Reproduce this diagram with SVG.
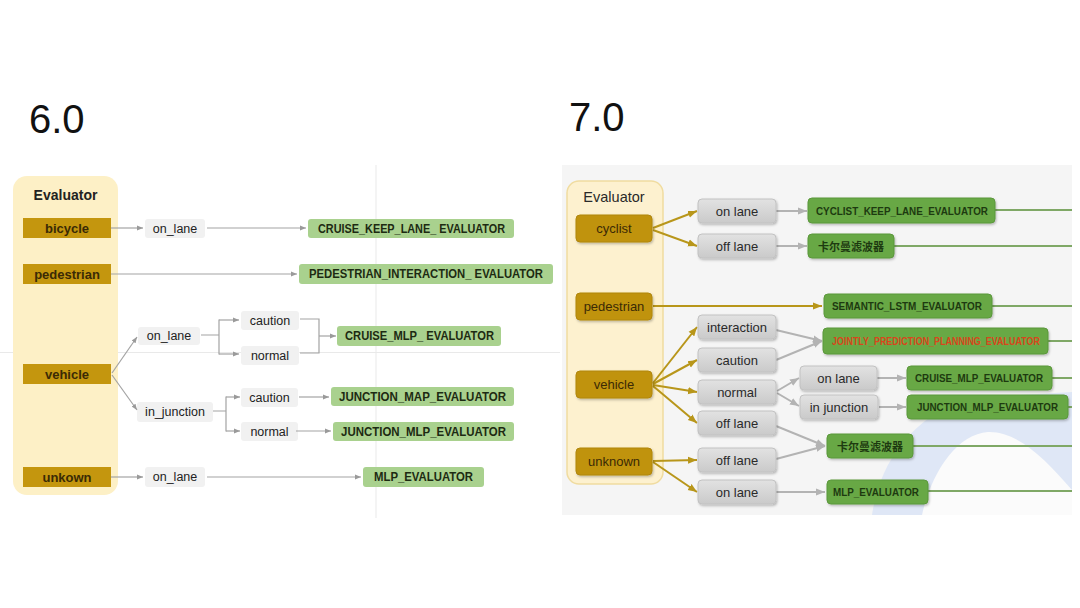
<svg xmlns="http://www.w3.org/2000/svg" width="1080" height="608" viewBox="0 0 1080 608">
<defs>
<style>
.title{font-family:"Liberation Sans",Arial,sans-serif;font-size:40px;fill:#111;}
.lpanel{fill:#fdf0c6;}
.lgold{fill:#c4960e;}
.lgoldt{font-family:"Liberation Sans",Arial,sans-serif;font-weight:bold;font-size:13px;fill:#3a2a05;text-anchor:middle;dominant-baseline:central;}
.lgray{fill:#f1f1f1;}
.lgrayt{font-family:"Liberation Sans",Arial,sans-serif;font-size:12.5px;fill:#222;text-anchor:middle;dominant-baseline:central;}
.lgreen{fill:#a9d18e;}
.lgreent{font-family:"Liberation Sans",Arial,sans-serif;font-weight:bold;font-size:12px;fill:#1d2a12;text-anchor:middle;dominant-baseline:central;}
.lline{fill:none;stroke:#a3a3a3;stroke-width:1.2;}
.grid{stroke:#e9e9e9;stroke-width:1;}
.rpanel{fill:#fdf1cf;stroke:#f0dca0;stroke-width:1.5;}
.rgold{fill:#c0930f;stroke:#b0860c;stroke-width:1;}
.rgoldt{font-family:"Liberation Sans",Arial,sans-serif;font-size:13px;fill:#3b2a05;text-anchor:middle;dominant-baseline:central;}
.rgray{fill:url(#gg);stroke:#c2c2c2;stroke-width:1;}
.rgrayt{font-family:"Liberation Sans",Arial,sans-serif;font-size:13px;fill:#2a2a2a;text-anchor:middle;dominant-baseline:central;}
.rgreen{fill:#67a845;stroke:#5b983b;stroke-width:1;}
.rgreent{font-family:"Liberation Sans",Arial,sans-serif;font-weight:bold;font-size:10.5px;fill:#1d3a10;text-anchor:middle;dominant-baseline:central;}
.rcjk{font-family:"Noto Sans CJK SC",sans-serif;font-size:11px;font-weight:bold;fill:#1d3a10;text-anchor:middle;dominant-baseline:central;}
.yline{fill:none;stroke:#b8961a;stroke-width:2;}
.gline{fill:none;stroke:#b3b3b3;stroke-width:2;}
.oline{fill:none;stroke:#7fa866;stroke-width:2;}
</style>
<linearGradient id="gg" x1="0" y1="0" x2="0" y2="1">
<stop offset="0" stop-color="#e2e2e2"/>
<stop offset="1" stop-color="#cacaca"/>
</linearGradient>
<filter id="sh" x="-10%" y="-20%" width="120%" height="150%">
<feDropShadow dx="1" dy="1.5" stdDeviation="1" flood-color="#000" flood-opacity="0.25"/>
</filter>
<marker id="al" viewBox="0 0 10 10" refX="10" refY="5" markerWidth="6" markerHeight="6" markerUnits="userSpaceOnUse" orient="auto">
<path d="M0,1 L10,5 L0,9 z" fill="#9a9a9a"/>
</marker>
<marker id="ay" viewBox="0 0 10 10" refX="10" refY="5" markerWidth="9" markerHeight="9" markerUnits="userSpaceOnUse" orient="auto">
<path d="M0,1 L10,5 L0,9 z" fill="#b8961a"/>
</marker>
<marker id="ar" viewBox="0 0 10 10" refX="10" refY="5" markerWidth="9" markerHeight="9" markerUnits="userSpaceOnUse" orient="auto">
<path d="M0,1 L10,5 L0,9 z" fill="#b3b3b3"/>
</marker>
</defs>
<rect width="1080" height="608" fill="#ffffff"/>

<!-- titles -->
<text class="title" x="29" y="133">6.0</text>
<text class="title" x="569" y="131">7.0</text>

<!-- left faint grid -->
<line class="grid" x1="376" y1="165" x2="376" y2="518"/>
<line class="grid" x1="0" y1="352.5" x2="560" y2="352.5"/>

<!-- right background -->
<rect x="562" y="165" width="510" height="350" fill="#f5f5f5"/>
<path d="M872 515 C880 460 912 420 965 398 L1072 392 L1072 515 Z" fill="#dfe7f6"/>
<path d="M922 515 C932 470 958 434 988 432 C1018 431 1046 460 1072 490 L1072 515 Z" fill="#fbfbfb"/>

<!-- ===== LEFT (6.0) ===== -->
<g id="l-evaluator">
<rect class="lpanel" x="13" y="176" width="105" height="319" rx="14"/>
<text x="65.5" y="195" style="font-family:'Liberation Sans',Arial,sans-serif;font-weight:bold;font-size:14px;fill:#222;text-anchor:middle;dominant-baseline:central;">Evaluator</text>
</g>
<g id="l-bicycle"><rect class="lgold" x="23" y="218" width="88" height="20"/><text class="lgoldt" x="67" y="228">bicycle</text></g>
<g id="l-pedestrian"><rect class="lgold" x="23" y="264" width="88" height="20"/><text class="lgoldt" x="67" y="274">pedestrian</text></g>
<g id="l-vehicle"><rect class="lgold" x="23" y="364" width="88" height="20"/><text class="lgoldt" x="67" y="374">vehicle</text></g>
<g id="l-unkown"><rect class="lgold" x="23" y="467" width="88" height="20"/><text class="lgoldt" x="67" y="477">unkown</text></g>

<g id="l-onlane1"><rect class="lgray" x="145" y="219" width="60" height="19" rx="3"/><text class="lgrayt" x="175" y="228.5">on_lane</text></g>
<g id="l-onlane2"><rect class="lgray" x="138" y="327" width="62" height="18" rx="3"/><text class="lgrayt" x="169" y="336">on_lane</text></g>
<g id="l-caution1"><rect class="lgray" x="241" y="311" width="58" height="19" rx="3"/><text class="lgrayt" x="270" y="320.5">caution</text></g>
<g id="l-normal1"><rect class="lgray" x="241" y="346" width="58" height="19" rx="3"/><text class="lgrayt" x="270" y="355.5">normal</text></g>
<g id="l-injunction"><rect class="lgray" x="137" y="402" width="76" height="20" rx="3"/><text class="lgrayt" x="175" y="412">in_junction</text></g>
<g id="l-caution2"><rect class="lgray" x="241" y="388" width="57" height="19" rx="3"/><text class="lgrayt" x="269.5" y="397.5">caution</text></g>
<g id="l-normal2"><rect class="lgray" x="241" y="422" width="57" height="19" rx="3"/><text class="lgrayt" x="269.5" y="431.5">normal</text></g>
<g id="l-onlane3"><rect class="lgray" x="145" y="467" width="60" height="20" rx="3"/><text class="lgrayt" x="175" y="477">on_lane</text></g>

<g id="l-cruisekeep"><rect class="lgreen" x="308" y="219" width="206" height="19" rx="3"/><text class="lgreent" x="411.5" y="228.5" textLength="187" lengthAdjust="spacingAndGlyphs">CRUISE_KEEP_LANE_ EVALUATOR</text></g>
<g id="l-pedinter"><rect class="lgreen" x="299" y="264" width="254" height="20" rx="3"/><text class="lgreent" x="426" y="274" textLength="234" lengthAdjust="spacingAndGlyphs">PEDESTRIAN_INTERACTION_ EVALUATOR</text></g>
<g id="l-cruisemlp"><rect class="lgreen" x="337" y="326" width="164" height="20" rx="3"/><text class="lgreent" x="419.5" y="336" textLength="149" lengthAdjust="spacingAndGlyphs">CRUISE_MLP_ EVALUATOR</text></g>
<g id="l-junctionmap"><rect class="lgreen" x="331" y="387" width="183" height="19" rx="3"/><text class="lgreent" x="422.5" y="396.5" textLength="167" lengthAdjust="spacingAndGlyphs">JUNCTION_MAP_EVALUATOR</text></g>
<g id="l-junctionmlp"><rect class="lgreen" x="333" y="422" width="181" height="19" rx="3"/><text class="lgreent" x="423.5" y="431.5" textLength="165" lengthAdjust="spacingAndGlyphs">JUNCTION_MLP_EVALUATOR</text></g>
<g id="l-mlp"><rect class="lgreen" x="363" y="467" width="121" height="20" rx="3"/><text class="lgreent" x="423.5" y="477" textLength="99" lengthAdjust="spacingAndGlyphs">MLP_EVALUATOR</text></g>

<g id="l-connectors">
<line class="lline" x1="111" y1="228" x2="143" y2="228" marker-end="url(#al)"/>
<line class="lline" x1="207" y1="228" x2="306" y2="228" marker-end="url(#al)"/>
<line class="lline" x1="111" y1="274" x2="297" y2="274" marker-end="url(#al)"/>
<line class="lline" x1="112" y1="373" x2="137" y2="337" marker-end="url(#al)"/>
<line class="lline" x1="112" y1="375" x2="137" y2="410" marker-end="url(#al)"/>
<path class="lline" d="M201 335 H219 M219 319.5 V354.5"/>
<line class="lline" x1="219" y1="320" x2="239" y2="320" marker-end="url(#al)"/>
<line class="lline" x1="219" y1="354" x2="239" y2="354" marker-end="url(#al)"/>
<path class="lline" d="M300 319 H319 V353 H300"/>
<line class="lline" x1="319" y1="336" x2="336" y2="336" marker-end="url(#al)"/>
<path class="lline" d="M213 411 H226 M226 396.5 V431.5"/>
<line class="lline" x1="226" y1="397" x2="240" y2="397" marker-end="url(#al)"/>
<line class="lline" x1="226" y1="431" x2="240" y2="431" marker-end="url(#al)"/>
<line class="lline" x1="299" y1="397" x2="329" y2="397" marker-end="url(#al)"/>
<line class="lline" x1="296" y1="431" x2="331" y2="431" marker-end="url(#al)"/>
<line class="lline" x1="111" y1="477" x2="143" y2="477" marker-end="url(#al)"/>
<line class="lline" x1="207" y1="477" x2="361" y2="477" marker-end="url(#al)"/>
</g>

<!-- ===== RIGHT (7.0) ===== -->
<g id="r-evaluator">
<rect class="rpanel" x="567" y="181" width="96" height="303" rx="12"/>
<text x="614" y="197" style="font-family:'Liberation Sans',Arial,sans-serif;font-size:14.5px;fill:#2a2a2a;text-anchor:middle;dominant-baseline:central;">Evaluator</text>
</g>

<g id="r-connectors">
<line class="yline" x1="653" y1="228" x2="697" y2="211" marker-end="url(#ay)"/>
<line class="yline" x1="653" y1="230" x2="697" y2="246" marker-end="url(#ay)"/>
<line class="yline" x1="653" y1="306" x2="822" y2="306" marker-end="url(#ay)"/>
<line class="yline" x1="653" y1="383" x2="697" y2="327" marker-end="url(#ay)"/>
<line class="yline" x1="653" y1="384" x2="697" y2="360" marker-end="url(#ay)"/>
<line class="yline" x1="653" y1="385" x2="697" y2="392" marker-end="url(#ay)"/>
<line class="yline" x1="653" y1="386" x2="697" y2="423" marker-end="url(#ay)"/>
<line class="yline" x1="653" y1="461" x2="697" y2="460" marker-end="url(#ay)"/>
<line class="yline" x1="653" y1="462" x2="697" y2="492" marker-end="url(#ay)"/>
<line class="gline" x1="776" y1="211" x2="807" y2="211" marker-end="url(#ar)"/>
<line class="gline" x1="776" y1="246" x2="807" y2="246" marker-end="url(#ar)"/>
<line class="gline" x1="776" y1="330" x2="822" y2="341" marker-end="url(#ar)"/>
<line class="gline" x1="776" y1="360" x2="822" y2="341" marker-end="url(#ar)"/>
<line class="gline" x1="777" y1="391" x2="799" y2="378" marker-end="url(#ar)"/>
<line class="gline" x1="777" y1="393" x2="799" y2="406" marker-end="url(#ar)"/>
<line class="gline" x1="877" y1="378" x2="906" y2="378" marker-end="url(#ar)"/>
<line class="gline" x1="879" y1="407" x2="906" y2="407" marker-end="url(#ar)"/>
<line class="gline" x1="776" y1="426" x2="825" y2="446" marker-end="url(#ar)"/>
<line class="gline" x1="776" y1="459" x2="825" y2="446" marker-end="url(#ar)"/>
<line class="gline" x1="776" y1="492" x2="825" y2="492" marker-end="url(#ar)"/>
<line class="oline" x1="995" y1="210" x2="1072" y2="210"/>
<line class="oline" x1="894" y1="246" x2="1072" y2="246"/>
<line class="oline" x1="992" y1="306" x2="1072" y2="306"/>
<line class="oline" x1="1048" y1="341" x2="1072" y2="341"/>
<line class="oline" x1="1052" y1="378" x2="1072" y2="378"/>
<line class="oline" x1="1068" y1="407" x2="1072" y2="407"/>
<line class="oline" x1="913" y1="446" x2="1072" y2="446"/>
<line class="oline" x1="928" y1="491" x2="1072" y2="491"/>
</g>

<g id="r-cyclist"><rect class="rgold" filter="url(#sh)" x="576" y="215" width="76" height="27" rx="4"/><text class="rgoldt" x="614" y="228.5">cyclist</text></g>
<g id="r-pedestrian"><rect class="rgold" filter="url(#sh)" x="576" y="293" width="76" height="27" rx="4"/><text class="rgoldt" x="614" y="306.5">pedestrian</text></g>
<g id="r-vehicle"><rect class="rgold" filter="url(#sh)" x="576" y="371" width="76" height="27" rx="4"/><text class="rgoldt" x="614" y="384.5">vehicle</text></g>
<g id="r-unknown"><rect class="rgold" filter="url(#sh)" x="576" y="448" width="76" height="27" rx="4"/><text class="rgoldt" x="614" y="461.5">unknown</text></g>

<g id="r-onlane1"><rect class="rgray" filter="url(#sh)" x="698" y="199" width="78" height="24" rx="4"/><text class="rgrayt" x="737" y="211">on lane</text></g>
<g id="r-offlane1"><rect class="rgray" filter="url(#sh)" x="698" y="234" width="78" height="24" rx="4"/><text class="rgrayt" x="737" y="246">off lane</text></g>
<g id="r-interaction"><rect class="rgray" filter="url(#sh)" x="698" y="315" width="78" height="24" rx="4"/><text class="rgrayt" x="737" y="327">interaction</text></g>
<g id="r-caution"><rect class="rgray" filter="url(#sh)" x="698" y="348" width="78" height="24" rx="4"/><text class="rgrayt" x="737" y="360">caution</text></g>
<g id="r-normal"><rect class="rgray" filter="url(#sh)" x="698" y="380" width="78" height="24" rx="4"/><text class="rgrayt" x="737" y="392">normal</text></g>
<g id="r-offlane2"><rect class="rgray" filter="url(#sh)" x="698" y="411" width="78" height="24" rx="4"/><text class="rgrayt" x="737" y="423">off lane</text></g>
<g id="r-offlane3"><rect class="rgray" filter="url(#sh)" x="698" y="448" width="78" height="24" rx="4"/><text class="rgrayt" x="737" y="460">off lane</text></g>
<g id="r-onlane2"><rect class="rgray" filter="url(#sh)" x="698" y="480" width="78" height="24" rx="4"/><text class="rgrayt" x="737" y="492">on lane</text></g>
<g id="r-onlane3"><rect class="rgray" filter="url(#sh)" x="800" y="366" width="77" height="24" rx="4"/><text class="rgrayt" x="838.5" y="378">on lane</text></g>
<g id="r-injunction"><rect class="rgray" filter="url(#sh)" x="800" y="395" width="78" height="24" rx="4"/><text class="rgrayt" x="839" y="407">in junction</text></g>

<g id="r-cyclistkeep"><rect class="rgreen" filter="url(#sh)" x="808" y="198" width="187" height="25" rx="4"/><text class="rgreent" x="902" y="210.5" textLength="172" lengthAdjust="spacingAndGlyphs">CYCLIST_KEEP_LANE_EVALUATOR</text></g>
<g id="r-kalman1"><rect class="rgreen" filter="url(#sh)" x="808" y="234" width="86" height="24" rx="4"/><text class="rcjk" x="851" y="246">卡尔曼滤波器</text></g>
<g id="r-semantic"><rect class="rgreen" filter="url(#sh)" x="824" y="294" width="168" height="24" rx="4"/><text class="rgreent" x="907" y="306" textLength="150" lengthAdjust="spacingAndGlyphs">SEMANTIC_LSTM_EVALUATOR</text></g>
<g id="r-jointly"><rect class="rgreen" filter="url(#sh)" x="823" y="328" width="225" height="26" rx="4"/><text class="rgreent" x="936" y="341" style="fill:#d8461c" textLength="208" lengthAdjust="spacingAndGlyphs">JOINTLY_PREDICTION_PLANNING_EVALUATOR</text></g>
<g id="r-cruisemlp"><rect class="rgreen" filter="url(#sh)" x="907" y="366" width="145" height="24" rx="4"/><text class="rgreent" x="979" y="378" textLength="128" lengthAdjust="spacingAndGlyphs">CRUISE_MLP_EVALUATOR</text></g>
<g id="r-junctionmlp"><rect class="rgreen" filter="url(#sh)" x="907" y="395" width="161" height="24" rx="4"/><text class="rgreent" x="987.5" y="407" textLength="141" lengthAdjust="spacingAndGlyphs">JUNCTION_MLP_EVALUATOR</text></g>
<g id="r-kalman2"><rect class="rgreen" filter="url(#sh)" x="827" y="434" width="86" height="24" rx="4"/><text class="rcjk" x="870" y="446">卡尔曼滤波器</text></g>
<g id="r-mlp"><rect class="rgreen" filter="url(#sh)" x="827" y="480" width="101" height="24" rx="4"/><text class="rgreent" x="876" y="492" textLength="86" lengthAdjust="spacingAndGlyphs">MLP_EVALUATOR</text></g>
</svg>
